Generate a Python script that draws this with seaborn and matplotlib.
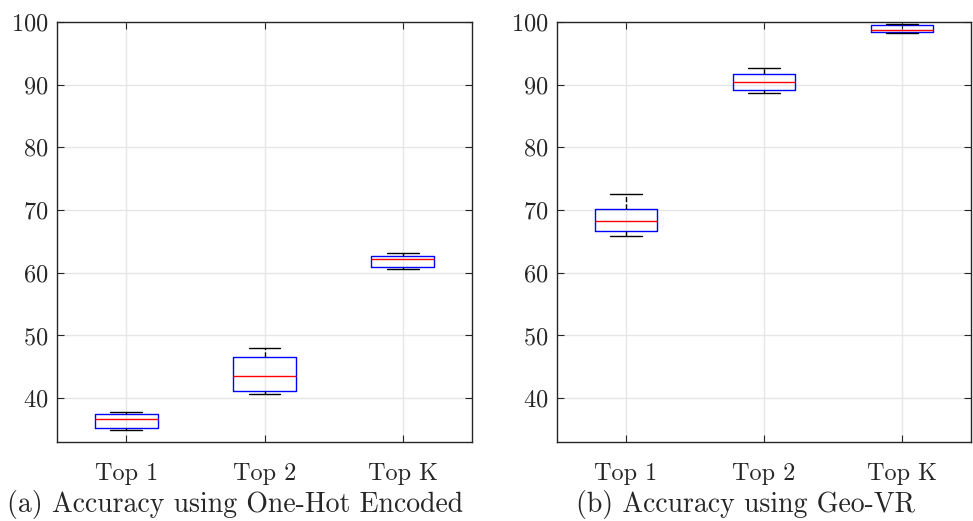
# Boxplots of accuracy for the two encodings (MATLAB-like look).

import pandas as pd
import seaborn as sns
import matplotlib.pyplot as plt

# ---------------------------------------------------------------

categories = ['Top 1', 'Top 2', 'Top K']

# Values: [lower whisker, q1, median, q3, upper whisker]
onehot_top1 = [34.9, 35.2, 36.7, 37.4, 37.8]
onehot_top2 = [40.6, 41.2, 43.5, 46.6, 48.0]
onehot_topk = [60.6, 60.9, 62.2, 62.7, 63.1]

geovr_top1 = [65.9, 66.7, 68.3, 70.1, 72.6]
geovr_top2 = [88.6, 89.2, 90.4, 91.7, 92.7]
geovr_topk = [98.3, 98.4, 98.7, 99.5, 99.7]

captions = ['(a) Accuracy using One-Hot Encoded', '(b) Accuracy using Geo-VR']

# ---------------------------------------------------------------


def to_long(groups):
    rows = []
    for cat, vals in zip(categories, groups):
        for v in vals:
            rows.append({'method': cat, 'accuracy': v})
    return pd.DataFrame(rows)


df_onehot = to_long([onehot_top1, onehot_top2, onehot_topk])
df_geovr = to_long([geovr_top1, geovr_top2, geovr_topk])

sns.set_style('white')
plt.rcParams['font.family'] = 'cmr10'
plt.rcParams['axes.formatter.use_mathtext'] = True

fig = plt.figure(figsize=(9.73, 5.21), dpi=100)
ax1 = fig.add_axes([0.0586, 0.1516, 0.4265, 0.8062])
ax2 = fig.add_axes([0.5725, 0.1516, 0.4255, 0.8062])

for ax, df, cap, cx in zip([ax1, ax2], [df_onehot, df_geovr], captions, [0.242, 0.766]):
    sns.boxplot(data=df, x='method', y='accuracy', ax=ax, order=categories,
                fill=False, width=0.455, whis=1.5, linewidth=1,
                boxprops=dict(color='blue', linewidth=1),
                medianprops=dict(color='red', linewidth=1),
                whiskerprops=dict(color='black', linestyle='--', linewidth=1),
                capprops=dict(color='black', linewidth=1),
                showfliers=False)
    ax.set_xlim(-0.5, 2.5)
    ax.set_ylim(33, 100)
    ax.set_yticks([40, 50, 60, 70, 80, 90, 100])
    ax.set_xlabel('')
    ax.set_ylabel('')
    ax.grid(True, color='#e6e6e6', linewidth=1)
    ax.set_axisbelow(True)
    for s in ax.spines.values():
        s.set_color('#262626')
        s.set_linewidth(1)
        s.set_visible(True)
    ax.tick_params(direction='in', length=5, width=0.8, color='#262626',
                   top=True, right=True, bottom=True, left=True,
                   labelsize=17.5, pad=6)
    ax.tick_params(axis='x', pad=15)
    fig.text(cx, 0.004, cap, ha='center', va='bottom', fontsize=20)

plt.savefig('out.png', dpi=100)
